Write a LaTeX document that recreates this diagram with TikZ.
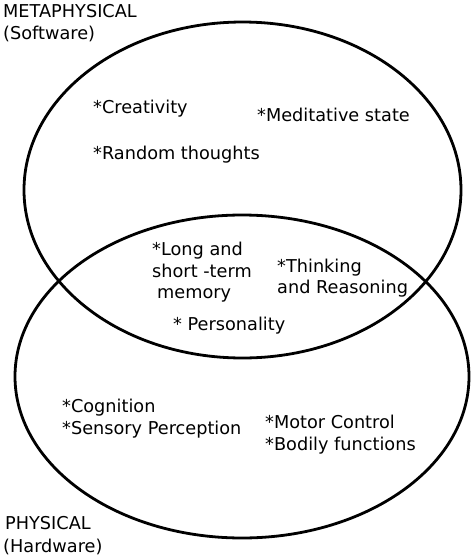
\documentclass[tikz,border=0pt]{standalone}
\usepackage{fontspec}
\setmainfont{DejaVu Sans}
\begin{document}
\begin{tikzpicture}[x=1pt,y=-1pt,
  setline/.style={draw=black, line width=2.8pt},
  lbl/.style={anchor=base west, inner sep=0pt, font=\fontsize{17.7}{21}\selectfont}]
\useasboundingbox (0,0) rectangle (474,558);
\draw[setline] (242.5,190) ellipse [x radius=218.5pt, y radius=168pt];
\draw[setline] (242,376.5) ellipse [x radius=227pt, y radius=161.5pt];
\node[lbl] (meta1) at (3,17) {METAPHYSICAL};
\node[lbl] (meta2) at (3,39) {(Software)};
\node[lbl] (crea) at (93,113) {*Creativity};
\node[lbl] (medi) at (257,121) {*Meditative state};
\node[lbl] (rand) at (93,159) {*Random thoughts};
\node[lbl] (long1) at (152,255) {*Long and};
\node[lbl] (long2) at (152,277) {short -term};
\node[lbl] (long3) at (157,298) {memory};
\node[lbl] (think1) at (277,272) {*Thinking};
\node[lbl] (think2) at (277,293) {and Reasoning};
\node[lbl] (pers) at (173,330) {* Personality};
\node[lbl] (cog1) at (62,412) {*Cognition};
\node[lbl] (cog2) at (62,434) {*Sensory Perception};
\node[lbl] (mot1) at (265,428) {*Motor Control};
\node[lbl] (mot2) at (265,450) {*Bodily functions};
\node[lbl] (phys1) at (5,529) {PHYSICAL};
\node[lbl] (phys2) at (3,552) {(Hardware)};
\end{tikzpicture}
\end{document}
